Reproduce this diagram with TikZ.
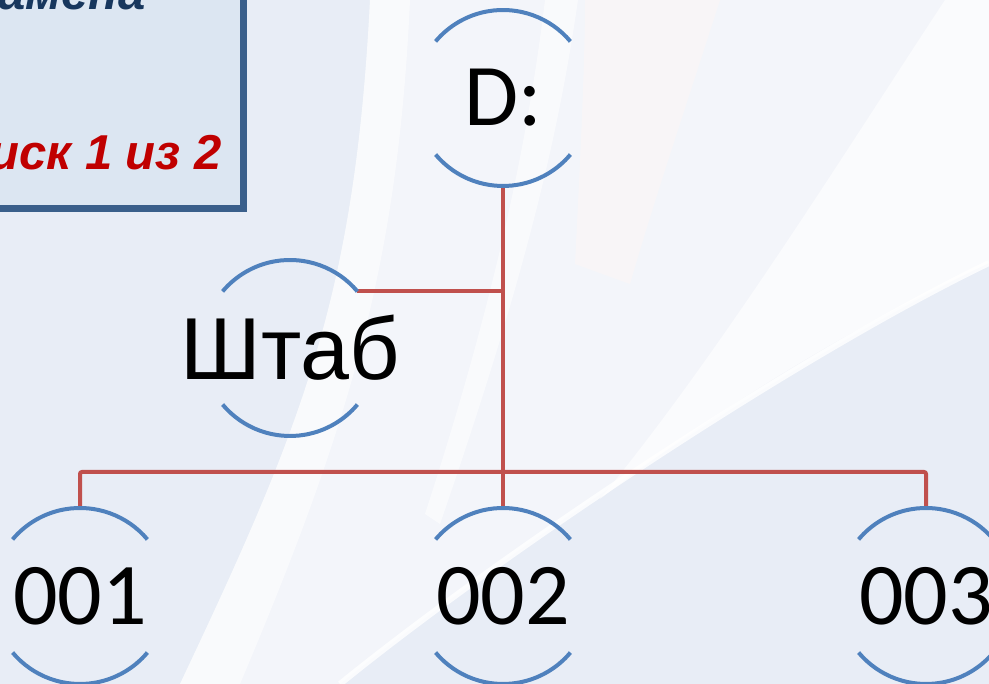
\documentclass[tikz,border=0pt]{standalone}
\usepackage{fontspec}
\setmainfont{Carlito}
\newfontfamily\calibrif{Carlito}
\newfontfamily\arialf{Liberation Sans}
\definecolor{bgbase}{HTML}{E8EDF6}
\definecolor{bglight}{HTML}{F3F5FA}
\definecolor{bgpink}{HTML}{FCF6F6}
\definecolor{arcblue}{HTML}{4F81BD}
\definecolor{connred}{HTML}{C0504D}
\definecolor{boxfill}{HTML}{DCE6F2}
\definecolor{boxline}{HTML}{3A5F8B}
\definecolor{navy}{HTML}{17375E}
\definecolor{darkred}{HTML}{C00000}
\tikzset{
  disk/.style={circle, minimum size=176pt, inner sep=0pt, outer sep=0pt, font=\calibrif\fontsize{88}{88}\selectfont},
  arcline/.style={draw=arcblue, line width=4pt},
  conn/.style={draw=connred, line width=4pt},
  titletext/.style={inner sep=0pt, font=\arialf\bfseries\itshape\fontsize{49}{49}\selectfont},
}
\begin{document}
\begin{tikzpicture}[x=1pt,y=1pt]
\useasboundingbox (0,0) rectangle (989,684);
\clip (0,0) rectangle (989,684);
% background
\fill[bgbase] (0,0) rectangle (989,684);
\fill[bglight] (370,684) .. controls (355,384) and (300,254) .. (180,0) -- (340,0) .. controls (500,130) and (800,330) .. (989,421) -- (989,684) -- cycle;
\fill[bgpink, opacity=0.6] (585,684) -- (720,684) .. controls (680,560) and (650,470) .. (630,400) -- (575,420) .. controls (580,520) and (585,620) .. (585,684) -- cycle;
\fill[white, opacity=0.55] (368,684) -- (410,684) .. controls (398,420) and (350,260) .. (240,0) -- (180,0) .. controls (300,254) and (355,384) .. (370,684) -- cycle;
\fill[white, opacity=0.55] (545,684) -- (578,684) .. controls (560,560) and (530,420) .. (440,160) -- (425,170) .. controls (500,400) and (530,560) .. (545,684) -- cycle;
\fill[white, opacity=0.6] (945,684) .. controls (850,540) and (720,330) .. (600,185) .. controls (750,300) and (880,370) .. (989,421) -- (989,684) -- cycle;
\draw[white, opacity=0.8, line width=6pt] (340,0) .. controls (500,130) and (800,330) .. (989,421);
% title box
\draw[fill=boxfill, draw=boxline, line width=7pt] (-20,475) rectangle (243,710);
\node[titletext, text=navy, anchor=base east] (t1) at (146,674) {амена};
\node[titletext, text=darkred, anchor=base east] (t2) at (222,514) {иск 1 из 2};
% disks
\node[disk] (D) at (503,586) {\raisebox{-2pt}{\makebox[0pt]{D:}}};
\node[disk, font=\arialf\fontsize{88}{88}\selectfont] (shtab) at (290,336) {\makebox[0pt]{Штаб}};
\node[disk] (n1) at (80,88) {\makebox[0pt]{001}};
\node[disk] (n2) at (503,88) {\makebox[0pt]{002}};
\node[disk] (n3) at (926,88) {\makebox[0pt]{003}};
\coordinate (bus) at (503,212);
% connectors
\draw[conn] (D.south) -- (n2.north);
\draw[conn] (shtab.40) -- (shtab.40 -| D.south);
\draw[conn, rounded corners=2pt] (n1.north) |- (bus) -| (n3.north);
% arcs
\foreach \n in {D,shtab,n1,n2,n3}{
  \draw[arcline] (\n.40) arc[start angle=40, end angle=140, radius=88pt];
  \draw[arcline] (\n.220) arc[start angle=220, end angle=320, radius=88pt];
}
\end{tikzpicture}
\end{document}
